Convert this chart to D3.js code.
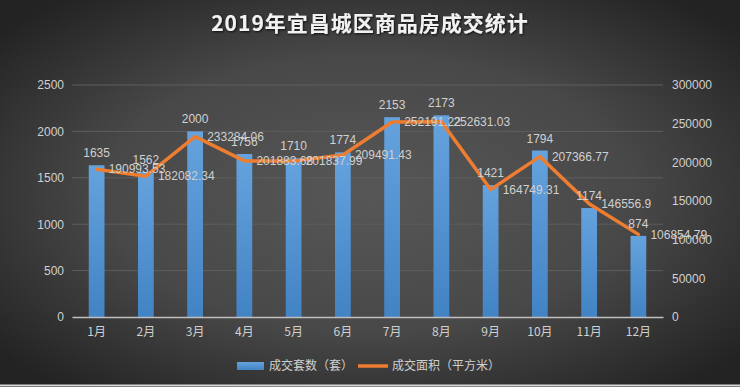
<!DOCTYPE html>
<html>
<head>
<meta charset="utf-8">
<script src="https://cdn.jsdelivr.net/npm/d3@7"></script>
<style>
	html, body { margin: 0; padding: 0; background: #333; }
	svg { display: block; font-family: 'Liberation Sans', 'Noto Sans CJK SC', sans-serif; }
</style>
</head>
<body>
<svg id="chart" width="740" height="387"></svg>
<script>
var months = ['1月', '2月', '3月', '4月', '5月', '6月', '7月', '8月', '9月', '10月', '11月', '12月'];
var dealCount = [1635, 1562, 2000, 1756, 1710, 1774, 2153, 2173, 1421, 1794, 1174, 874];
var dealArea = [190993.53, 182082.34, 233284.06, 201883.68, 201837.99, 209491.43, 252191.22, 252631.03, 164749.31, 207366.77, 146556.9, 106854.79];
var leftTicks = [0, 500, 1000, 1500, 2000, 2500];
var rightTicks = [0, 50000, 100000, 150000, 200000, 250000, 300000];
var legendNames = ['成交套数（套）', '成交面积（平方米）'];
var titleText = '2019年宜昌城区商品房成交统计';

(function() {

	'use strict';

	var svg = d3.select('#chart'),
		svgWidth = 740,
		svgHeight = 387,
		margin = { top: 85, right: 77, bottom: 70, left: 72 },
		width = svgWidth - margin.left - margin.right,
		height = svgHeight - margin.top - margin.bottom,
		labelColor = '#d0d0d0',
		plain = d3.format('d');

	var defs = svg.append('defs');

	var bg = defs.append('radialGradient')
		.attr('id', 'bg')
		.attr('cx', '50%').attr('cy', '50%').attr('r', '65%');
	bg.append('stop').attr('offset', '0%').attr('stop-color', '#575757');
	bg.append('stop').attr('offset', '55%').attr('stop-color', '#484848');
	bg.append('stop').attr('offset', '100%').attr('stop-color', '#232323');

	var barGrad = defs.append('linearGradient')
		.attr('id', 'barGrad')
		.attr('x1', 0).attr('y1', 0).attr('x2', 0).attr('y2', 1);
	barGrad.append('stop').attr('offset', '0%').attr('stop-color', '#65a3de');
	barGrad.append('stop').attr('offset', '100%').attr('stop-color', '#4283c4');

	var shadow = defs.append('filter').attr('id', 'shadow');
	shadow.append('feDropShadow')
		.attr('dx', 1).attr('dy', 1).attr('stdDeviation', 0.8)
		.attr('flood-color', '#000').attr('flood-opacity', 0.8);

	// background
	svg.append('rect')
		.attr('width', svgWidth)
		.attr('height', svgHeight)
		.attr('fill', 'url(#bg)');

	svg.append('line')
		.attr('x1', 0).attr('x2', svgWidth)
		.attr('y1', svgHeight - 1.5).attr('y2', svgHeight - 1.5)
		.attr('stroke', '#d9d9d9').attr('stroke-width', 2);

	// title
	svg.append('text')
		.attr('x', 370)
		.attr('y', 31)
		.attr('text-anchor', 'middle')
		.attr('fill', '#f2f2f2')
		.attr('font-size', 21)
		.attr('font-weight', 'bold')
		.attr('letter-spacing', 1)
		.attr('font-family', "'Noto Sans CJK SC', sans-serif")
		.attr('filter', 'url(#shadow)')
		.text(titleText);

	var xScale = d3.scaleBand()
		.domain(months)
		.range([0, width])
		.paddingInner(0.68)
		.paddingOuter(0.34);

	var yLeft = d3.scaleLinear()
		.domain([0, 2500])
		.range([height, 0]);

	var yRight = d3.scaleLinear()
		.domain([0, 300000])
		.range([height, 0]);

	var g = svg.append('g')
		.attr('transform', 'translate(' + margin.left + ',' + margin.top + ')');

	// gridlines
	g.append('g')
		.selectAll('line')
		.data(leftTicks.slice(1))
		.enter()
		.append('line')
		.attr('x1', 0).attr('x2', width)
		.attr('y1', function(d) { return yLeft(d); })
		.attr('y2', function(d) { return yLeft(d); })
		.attr('stroke', '#5e5e5e')
		.attr('stroke-width', 1);

	// left axis
	var leftAxis = g.append('g')
		.call(d3.axisLeft(yLeft).tickValues(leftTicks).tickFormat(plain).tickSize(0).tickPadding(8));
	leftAxis.select('.domain').remove();
	leftAxis.selectAll('text')
		.attr('fill', labelColor)
		.attr('font-size', 12)
		.attr('font-family', "'Liberation Sans', sans-serif");

	// right axis
	var rightAxis = g.append('g')
		.attr('transform', 'translate(' + width + ',0)')
		.call(d3.axisRight(yRight).tickValues(rightTicks).tickFormat(plain).tickSize(0).tickPadding(9));
	rightAxis.select('.domain').remove();
	rightAxis.selectAll('text')
		.attr('fill', labelColor)
		.attr('font-size', 12)
		.attr('font-family', "'Liberation Sans', sans-serif");

	// bars
	g.append('g')
		.selectAll('rect')
		.data(dealCount)
		.enter()
		.append('rect')
		.attr('x', function(d, i) { return xScale(months[i]); })
		.attr('y', function(d) { return yLeft(d); })
		.attr('width', xScale.bandwidth())
		.attr('height', function(d) { return height - yLeft(d); })
		.attr('fill', 'url(#barGrad)');

	// x axis
	var xAxis = g.append('g')
		.attr('transform', 'translate(0,' + height + ')')
		.call(d3.axisBottom(xScale).tickSize(0).tickPadding(10));
	xAxis.select('.domain')
		.attr('stroke', '#bfbfbf')
		.attr('stroke-width', 1.5);
	xAxis.selectAll('text')
		.attr('fill', labelColor)
		.attr('font-size', 12)
		.attr('font-family', "'Noto Sans CJK SC', sans-serif");

	// line
	var cx = function(i) { return xScale(months[i]) + xScale.bandwidth() / 2; };
	var line = d3.line()
		.x(function(d, i) { return cx(i); })
		.y(function(d) { return yRight(d); });

	g.append('path')
		.datum(dealArea)
		.attr('d', line)
		.attr('fill', 'none')
		.attr('stroke', '#ed7d31')
		.attr('stroke-width', 3.5)
		.attr('stroke-linejoin', 'round')
		.attr('stroke-linecap', 'round');

	// bar labels
	g.append('g')
		.selectAll('text')
		.data(dealCount)
		.enter()
		.append('text')
		.attr('x', function(d, i) { return cx(i); })
		.attr('y', function(d) { return yLeft(d) - 8; })
		.attr('text-anchor', 'middle')
		.attr('fill', labelColor)
		.attr('font-size', 12)
		.text(function(d) { return d; });

	// line labels
	g.append('g')
		.selectAll('text')
		.data(dealArea)
		.enter()
		.append('text')
		.attr('x', function(d, i) { return cx(i) + 12; })
		.attr('y', function(d) { return yRight(d); })
		.attr('dy', '0.35em')
		.attr('fill', labelColor)
		.attr('font-size', 12)
		.text(function(d) { return d; });

	// legend
	var legend = svg.append('g')
		.attr('font-family', "'Noto Sans CJK SC', sans-serif")
		.attr('font-size', 12)
		.attr('fill', labelColor);

	legend.append('rect')
		.attr('x', 237).attr('y', 362)
		.attr('width', 27).attr('height', 8)
		.attr('fill', 'url(#barGrad)');
	legend.append('text')
		.attr('x', 269).attr('y', 366)
		.attr('dy', '0.35em')
		.text(legendNames[0]);

	legend.append('line')
		.attr('x1', 358).attr('x2', 388)
		.attr('y1', 366).attr('y2', 366)
		.attr('stroke', '#ed7d31')
		.attr('stroke-width', 3.5);
	legend.append('text')
		.attr('x', 392).attr('y', 366)
		.attr('dy', '0.35em')
		.text(legendNames[1]);

})();
</script>
</body>
</html>
